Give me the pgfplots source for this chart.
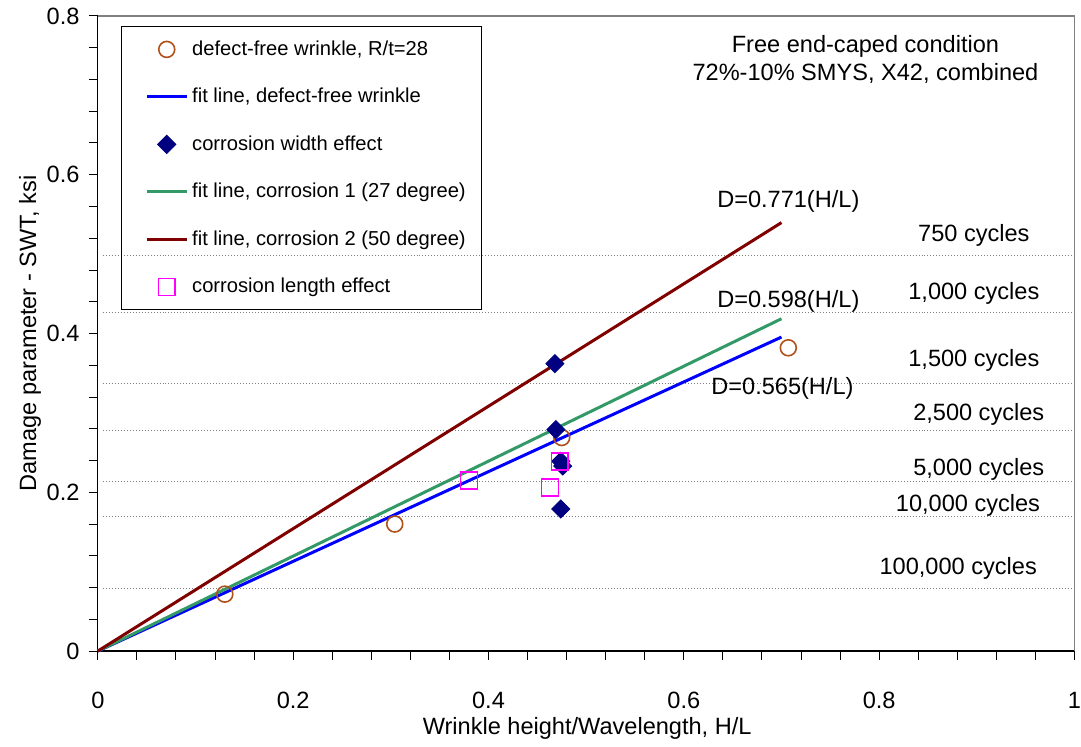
\documentclass[border=0pt]{standalone}
\usepackage{fontspec}
\setmainfont{Liberation Sans}
\usepackage{pgfplots}
\pgfplotsset{compat=1.18}
\definecolor{dfbrown}{HTML}{B0501A}
\definecolor{fitblue}{HTML}{0000FF}
\definecolor{fitgreen}{HTML}{339966}
\definecolor{fitred}{HTML}{800000}
\definecolor{cwnavy}{HTML}{000080}
\definecolor{clmag}{HTML}{FF00FF}
\newcommand{\mainfont}{\fontsize{11.8bp}{13.8bp}\selectfont}
\newcommand{\legfont}{\fontsize{10.1bp}{12bp}\selectfont}

\begin{document}
\begin{tikzpicture}
\begin{axis}[
  scale only axis, width=489bp, height=318bp,
  xmin=0, xmax=1, ymin=0, ymax=0.8,
  xtick={0,0.2,...,1.0}, ytick={0,0.2,...,0.8},
  minor x tick num=4, minor y tick num=4,
  axis x line*=bottom, axis y line*=left,
  axis line style={-, black, line width=0.6bp},
  tick align=outside,
  major tick length=4.5bp, minor tick length=4.5bp,
  tick style={black, line width=0.5bp},
  /pgf/number format/assume math mode=true,
  tick label style={font=\mainfont},
  xticklabel style={anchor=north, inner sep=0pt},
  xticklabel shift=16bp,
  yticklabel style={anchor=east, inner sep=0pt},
  yticklabel shift=4.5bp,
  xlabel={Wrinkle height/Wavelength, H/L},
  ylabel={Damage parameter - SWT, ksi},
  every axis x label/.style={at={(axis description cs:0.501,-0.122)}, anchor=center, font=\mainfont},
  every axis y label/.style={at={(axis description cs:-0.0695,0.5)}, anchor=center, rotate=90, font=\mainfont},
  legend style={at={(0.0235,0.984)}, anchor=north west, draw=black,
    line width=0.5bp, fill=none, font=\legfont, row sep=11bp,
    inner xsep=6bp, inner ysep=5bp},
  legend cell align=left,
  legend image code/.code={\path (0bp,0bp);
    \draw[mark repeat=2,mark phase=2,#1]
    plot coordinates {(6bp,0bp) (16bp,0bp) (26bp,0bp)};},
  clip=false,
]
% cycle boundaries
\foreach \yv in {0.498,0.426,0.337,0.278,0.213,0.169,0.079} {
  \edef\temp{\noexpand\addplot[forget plot, gray, densely dotted, line width=0.5bp]
    coordinates {(0.005,\yv) (1,\yv)};}
  \temp
}
\addplot[only marks, mark=o, mark size=4bp, dfbrown, line width=0.8bp] coordinates {
  (0.130,0.0717) (0.304,0.160) (0.475,0.269) (0.707,0.382)};
\addlegendentry{defect-free wrinkle, R/t=28}
\addplot[fitblue, line width=1.5bp] coordinates {(0,0) (0.7,0.3955)};
\addlegendentry{fit line, defect-free wrinkle}
\addplot[only marks, mark=square*, mark size=3.2bp, mark options={rotate=45}, cwnavy] coordinates {
  (0.468,0.362) (0.469,0.279) (0.474,0.239) (0.476,0.233) (0.474,0.179)};
\addlegendentry{corrosion width  effect}
\addplot[fitgreen, line width=1.5bp] coordinates {(0,0) (0.7,0.4186)};
\addlegendentry{fit line, corrosion 1 (27 degree)}
\addplot[fitred, line width=1.5bp] coordinates {(0,0) (0.7,0.5397)};
\addlegendentry{fit line, corrosion 2 (50 degree)}
\addplot[only marks, mark=square, mark size=4.2bp, clmag, line width=0.8bp] coordinates {
  (0.380,0.215) (0.473,0.239) (0.463,0.206)};
\addlegendentry{corrosion length effect}
% frame, top and right
\draw[gray, line width=0.6bp] (rel axis cs:0,1) -- (rel axis cs:1,1) -- (rel axis cs:1,0);
% page margins as in the reference
\path ([xshift=-49bp,yshift=-47bp]rel axis cs:0,0) ([xshift=2.5bp,yshift=8bp]rel axis cs:1,1);
% annotations
\node[font=\mainfont, align=center] at (axis cs:0.786,0.745)
  {Free end-caped condition\\72\%-10\% SMYS, X42, combined};
\node[font=\mainfont] at (axis cs:0.707,0.567) {D=0.771(H/L)};
\node[font=\mainfont] at (axis cs:0.707,0.440) {D=0.598(H/L)};
\node[font=\mainfont] at (axis cs:0.701,0.331) {D=0.565(H/L)};
\node[font=\mainfont] at (axis cs:0.897,0.523) {750 cycles};
\node[font=\mainfont] at (axis cs:0.897,0.450) {1,000 cycles};
\node[font=\mainfont] at (axis cs:0.897,0.366) {1,500 cycles};
\node[font=\mainfont] at (axis cs:0.902,0.298) {2,500 cycles};
\node[font=\mainfont] at (axis cs:0.902,0.229) {5,000 cycles};
\node[font=\mainfont] at (axis cs:0.891,0.184) {10,000 cycles};
\node[font=\mainfont] at (axis cs:0.881,0.104) {100,000 cycles};
\end{axis}
\end{tikzpicture}
\end{document}
